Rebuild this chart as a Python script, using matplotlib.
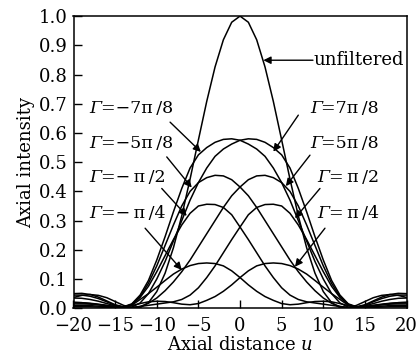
import matplotlib
matplotlib.use("Agg")
import matplotlib.pyplot as plt

plt.rcParams['font.family'] = ['DejaVu Serif']
plt.rcParams['mathtext.fontset'] = 'custom'
plt.rcParams['mathtext.rm'] = 'DejaVu Serif'
plt.rcParams['mathtext.it'] = 'DejaVu Serif:italic'

# axial distance samples
u = list(range(-20, 21))

unfiltered = [0.037, 0.044, 0.047, 0.044, 0.036, 0.023, 0.010, 0.001, 0.002, 0.019,
              0.057, 0.120, 0.207, 0.316, 0.442, 0.576, 0.708, 0.826, 0.919, 0.979,
              1.0,
              0.979, 0.919, 0.826, 0.708, 0.576, 0.442, 0.316, 0.207, 0.120, 0.057,
              0.019, 0.002, 0.001, 0.010, 0.023, 0.036, 0.044, 0.047, 0.044, 0.037]

g78n = [0.050, 0.051, 0.047, 0.038, 0.025, 0.012, 0.005, 0.015, 0.045, 0.095,
        0.165, 0.245, 0.33, 0.41, 0.48, 0.525, 0.55, 0.568, 0.578, 0.58,
        0.575,
        0.562, 0.545, 0.52, 0.48, 0.43, 0.37, 0.30, 0.23, 0.16, 0.10,
        0.05, 0.018, 0.004, 0.002, 0.005, 0.01, 0.014, 0.017, 0.019, 0.02]
g78p = [0.02, 0.019, 0.017, 0.014, 0.01, 0.005, 0.002, 0.004, 0.018, 0.05,
        0.10, 0.16, 0.23, 0.30, 0.37, 0.43, 0.48, 0.52, 0.545, 0.562,
        0.575,
        0.58, 0.578, 0.568, 0.55, 0.525, 0.48, 0.41, 0.33, 0.245, 0.165,
        0.095, 0.045, 0.015, 0.005, 0.012, 0.025, 0.038, 0.047, 0.051, 0.050]

g58n = [0.045, 0.045, 0.041, 0.033, 0.022, 0.010, 0.004, 0.013, 0.040, 0.085,
        0.145, 0.215, 0.285, 0.35, 0.40, 0.43, 0.447, 0.455, 0.453, 0.44,
        0.415,
        0.385, 0.345, 0.30, 0.255, 0.21, 0.165, 0.125, 0.09, 0.06, 0.035,
        0.017, 0.006, 0.002, 0.003, 0.006, 0.009, 0.012, 0.014, 0.015, 0.015]
g58p = [0.015, 0.015, 0.014, 0.012, 0.009, 0.006, 0.003, 0.002, 0.006, 0.017,
        0.035, 0.06, 0.09, 0.125, 0.165, 0.21, 0.255, 0.30, 0.345, 0.385,
        0.415,
        0.44, 0.453, 0.455, 0.447, 0.43, 0.40, 0.35, 0.285, 0.215, 0.145,
        0.085, 0.040, 0.013, 0.004, 0.010, 0.022, 0.033, 0.041, 0.045, 0.045]

g12n = [0.035, 0.034, 0.030, 0.024, 0.016, 0.008, 0.004, 0.012, 0.037, 0.075,
        0.125, 0.18, 0.235, 0.285, 0.325, 0.35, 0.356, 0.355, 0.345, 0.32,
        0.278,
        0.235, 0.19, 0.145, 0.105, 0.07, 0.045, 0.03, 0.022, 0.018, 0.014,
        0.01, 0.006, 0.003, 0.002, 0.003, 0.005, 0.007, 0.009, 0.01, 0.01]
g12p = [0.01, 0.01, 0.009, 0.007, 0.005, 0.003, 0.002, 0.003, 0.006, 0.01,
        0.014, 0.018, 0.022, 0.03, 0.045, 0.07, 0.105, 0.145, 0.19, 0.235,
        0.278,
        0.32, 0.345, 0.355, 0.356, 0.35, 0.325, 0.285, 0.235, 0.18, 0.125,
        0.075, 0.037, 0.012, 0.004, 0.008, 0.016, 0.024, 0.030, 0.034, 0.035]

g14n = [0.02, 0.019, 0.016, 0.012, 0.008, 0.005, 0.004, 0.01, 0.03, 0.05,
        0.072, 0.095, 0.117, 0.134, 0.146, 0.153, 0.155, 0.153, 0.145, 0.128,
        0.105,
        0.08, 0.058, 0.04, 0.027, 0.016, 0.012, 0.014, 0.019, 0.023, 0.024,
        0.022, 0.016, 0.009, 0.004, 0.003, 0.003, 0.004, 0.005, 0.005, 0.005]
g14p = [0.005, 0.005, 0.005, 0.004, 0.003, 0.003, 0.004, 0.009, 0.016, 0.022,
        0.024, 0.023, 0.019, 0.014, 0.012, 0.016, 0.027, 0.04, 0.058, 0.08,
        0.105,
        0.128, 0.145, 0.153, 0.155, 0.153, 0.146, 0.134, 0.117, 0.095, 0.072,
        0.05, 0.03, 0.01, 0.004, 0.005, 0.008, 0.012, 0.016, 0.019, 0.02]

curves = [unfiltered, g78n, g78p, g58n, g58p, g12n, g12p, g14n, g14p]

# (gamma text or None, rest of text, text position, arrow tip, arrow tail)
labels = [
    (None, "unfiltered", (8.76, 0.849), (2.8, 0.849), (8.76, 0.849)),
    ("Γ", "=−7π\u2009/8", (-18.1, 0.685), (-4.7, 0.535), (-8.4, 0.637)),
    ("Γ", "=−5π\u2009/8", (-18.1, 0.565), (-5.8, 0.413), (-8.8, 0.518)),
    ("Γ", "=−\u2009π\u2009/2", (-18.1, 0.446), (-6.4, 0.316), (-9.4, 0.41)),
    ("Γ", "=−\u2009π\u2009/4", (-18.1, 0.326), (-7.0, 0.131), (-11.4, 0.274)),
    ("Γ", "=7π\u2009/8", (8.4, 0.685), (4.0, 0.536), (7.0, 0.661)),
    ("Γ", "=5π\u2009/8", (8.4, 0.565), (5.5, 0.418), (8.4, 0.524)),
    ("Γ", "=\u2009π\u2009/2", (9.3, 0.446), (6.6, 0.308), (9.6, 0.41)),
    ("Γ", "=\u2009π\u2009/4", (9.3, 0.326), (6.6, 0.142), (10.2, 0.274)),
]

fs = 13
lfs = 12.5
fig = plt.figure(figsize=(4.2, 3.58), dpi=100)
ax = fig.add_axes([0.175, 0.139, 0.793, 0.816])

for c in curves:
    ax.plot(u, c, color='black', lw=1.1)

for g, text, tpos, tip, tail in labels:
    if g is None:
        ax.text(tpos[0], tpos[1], text, fontsize=fs, ha='left', va='center')
    else:
        ax.text(tpos[0], tpos[1], g, fontsize=lfs, ha='left', va='center',
                fontstyle='italic')
        ax.annotate(text, xy=tpos, xytext=(8.2, 0), textcoords='offset points',
                    fontsize=lfs, ha='left', va='center')
    ax.annotate("", xy=tip, xytext=tail,
                arrowprops=dict(arrowstyle='-|>', color='black', lw=1.0,
                                mutation_scale=11, shrinkA=0, shrinkB=0))

ax.set_xlim(-20, 20)
ax.set_ylim(0, 1.0)
ax.set_xticks(range(-20, 21, 5))
ax.set_yticks([i / 10 for i in range(11)])
ax.set_yticklabels([f"{i / 10:.1f}" for i in range(11)])
ax.tick_params(direction='in', length=6, width=1, labelsize=fs, top=False, right=False)
ax.tick_params(axis='x', pad=6)
ax.tick_params(axis='y', pad=4)
for s in ax.spines.values():
    s.set_linewidth(1.1)
ax.set_xlabel("Axial distance $\\mathit{u}$", fontsize=fs, labelpad=1)
ax.set_ylabel("Axial intensity", fontsize=fs, labelpad=3)

fig.savefig("out.png", dpi=100)
